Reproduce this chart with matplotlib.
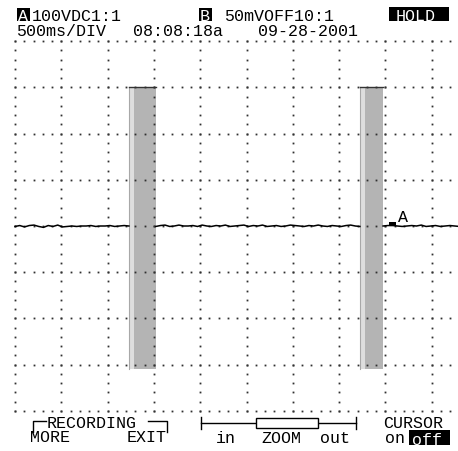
import matplotlib
matplotlib.use("Agg")
import matplotlib.pyplot as plt
import numpy as np
from matplotlib.patches import Rectangle

# ---------------- data ----------------
ch_a_label = "100VDC1:1"
ch_b_label = "50mVOFF10:1"
timebase_label = "500ms/DIV"
clock_label = "08:08:18a"
date_label = "09-28-2001"
hold_label = "HOLD"

volts_per_div = 100.0   # channel A
sec_per_div = 0.5       # 500 ms/DIV

# recording gaps (seconds) and their min/max envelope (volts)
gap_start = [1.23, 3.725]
gap_end = [1.52, 3.975]
gap_max = [300.0, 300.0]
gap_min = [-310.0, -310.0]

# trace segments: (start s, end s) and sample values (volts)
seg_bounds = [(0.0, 1.23), (1.52, 3.725), (3.975, 4.80)]
seg1_v = [-1, 1, -2, 1, 2, -1, -3, 1, -1, 2, -2, -1, 0, -1, 0, 0, 1, -1, 0, 0, 1, -1, 0, 1, 0]
seg2_v = [-1, 1, 2, -1, 0, 2, 0, 0, 1, -1, 2, 0, -1, 1, 0, 2, -1, 0, 1, 2,
          -1, 1, 0, 2, -1, 0, 1, -1, 0, 2, 1, 0, -1, 1, 0, 2, 0, -1, 1, 0,
          -1, 1, 2, 0, -1]
seg3_v = [0, 1, 1, 0, -1, 0, 1, 0, 2, -1, 0, 1, -1, 0, 1, 0, -1]
segments = [seg1_v, seg2_v, seg3_v]

cursor_time = 3.99
cursor_label = "A"

# ---------------- layout helpers ----------------
W, H = 458, 452
X0, Y0 = 15.0, 227.0      # pixel of (0 div, 0 div)
DX, DY = 46.3, 46.2       # pixels per division


def P(x, y):
    """pixel position -> division coordinates"""
    return (x - X0) / DX, (Y0 - y) / DY


fig = plt.figure(figsize=(W / 100, H / 100), dpi=100)
ax = fig.add_axes([0, 0, 1, 1])
ax.set_xlim(P(0, 0)[0], P(W, 0)[0])
ax.set_ylim(P(0, H)[1], P(0, 0)[1])
ax.axis("off")
fig.patch.set_facecolor("white")

FONT = dict(family=["Liberation Mono", "DejaVu Sans Mono"], fontsize=12, color="black")

# ---------------- recording gaps ----------------
stripe = 0.05
for s, e, mx, mn in zip(gap_start, gap_end, gap_max, gap_min):
    x0 = s / sec_per_div
    x1 = e / sec_per_div
    y0 = mn / volts_per_div
    y1 = mx / volts_per_div
    xs = (s + stripe) / sec_per_div
    ax.add_patch(Rectangle((x0, y0), xs - x0, y1 - y0, facecolor="#dedede",
                           edgecolor="none", zorder=2))
    ax.add_patch(Rectangle((xs, y0), x1 - xs, y1 - y0, facecolor="#b4b4b4",
                           edgecolor="none", zorder=2))
    ax.plot([x0, x0], [y0, y1], color="#a8a8a8", lw=0.8, zorder=2)
    ax.plot([x0, x1], [y1, y1], color="#333333", lw=1.0, zorder=3)

# ---------------- grid dots ----------------
xmax_div = P(451, 0)[0]
row_x = np.arange(0, xmax_div + 1e-6, 0.2)
col_y = np.arange(-4, 4 + 1e-6, 0.2)
gx, gy = [], []
for r in range(-4, 5):
    gx.extend(row_x)
    gy.extend([r] * len(row_x))
for c in range(0, 10):
    gx.extend([c] * len(col_y))
    gy.extend(col_y)
ax.plot(gx, gy, linestyle="none", marker="s", ms=1.3, mew=0,
        color="#303030", zorder=4)

# ---------------- trace ----------------
for (s, e), vals in zip(seg_bounds, segments):
    t = np.linspace(s, e, len(vals))
    ax.plot(t / sec_per_div, np.array(vals) / volts_per_div, color="black",
            lw=1.1, zorder=5, solid_joinstyle="round")

# cursor marker
cx = cursor_time / sec_per_div
ax.add_patch(Rectangle(P(389, 227), 7 / DX, 4 / DY, facecolor="black",
                       edgecolor="none", zorder=6))
ax.text(*P(398, 222), cursor_label, ha="left", va="baseline", zorder=6, **FONT)


# ---------------- header ----------------
def boxed(x0, y0, x1, y1, label, tx):
    ax.add_patch(Rectangle(P(x0, y1), (x1 - x0) / DX, (y1 - y0) / DY,
                           facecolor="black", edgecolor="none", zorder=6))
    ax.text(*P(tx, y1 - 1), label, ha="left", va="baseline", zorder=7,
            **{**FONT, "color": "white"})


boxed(17, 9, 30, 22, "A", 17.5)
ax.text(*P(32, 21), ch_a_label, ha="left", va="baseline", **FONT)
boxed(199, 9, 212, 22, "B", 199.5)
ax.text(*P(224, 21), ch_b_label, ha="left", va="baseline", **FONT)
boxed(389, 8, 449, 22, hold_label, 396)

ax.text(*P(16, 36), timebase_label, ha="left", va="baseline", **FONT)
ax.text(*P(133, 36), clock_label, ha="left", va="baseline", **FONT)
ax.text(*P(258, 36), date_label, ha="left", va="baseline", **FONT)

# ---------------- footer ----------------
ax.text(*P(47, 428), "RECORDING", ha="left", va="baseline", **FONT)
bx, by = zip(P(33, 433), P(33, 422), P(46, 422))
ax.plot(bx, by, color="black", lw=1.0)
bx, by = zip(P(148, 422), P(167, 422), P(167, 433))
ax.plot(bx, by, color="black", lw=1.0)
ax.text(*P(30, 442), "MORE", ha="left", va="baseline", **FONT)
ax.text(*P(127, 442), "EXIT", ha="left", va="baseline", **FONT)

# zoom bar
lx, ly = zip(P(201, 424), P(256, 424))
ax.plot(lx, ly, color="black", lw=1.0)
lx, ly = zip(P(318, 424), P(356, 424))
ax.plot(lx, ly, color="black", lw=1.0)
for xx in (201, 356):
    lx, ly = zip(P(xx, 418), P(xx, 430))
    ax.plot(lx, ly, color="black", lw=1.0)
ax.add_patch(Rectangle(P(256, 429), 62 / DX, 10 / DY, facecolor="white",
                       edgecolor="black", lw=1.0, zorder=6))
ax.text(*P(216, 443), "in", ha="left", va="baseline", **FONT)
ax.text(*P(261, 443), "ZOOM", ha="left", va="baseline", **FONT)
ax.text(*P(320, 443), "out", ha="left", va="baseline", **FONT)

ax.text(*P(383, 428), "CURSOR", ha="left", va="baseline", **FONT)
ax.text(*P(385, 443), "on", ha="left", va="baseline", **FONT)
boxed(409, 431, 450, 446, "off", 412)

fig.savefig("out.png", dpi=100, facecolor="white")
